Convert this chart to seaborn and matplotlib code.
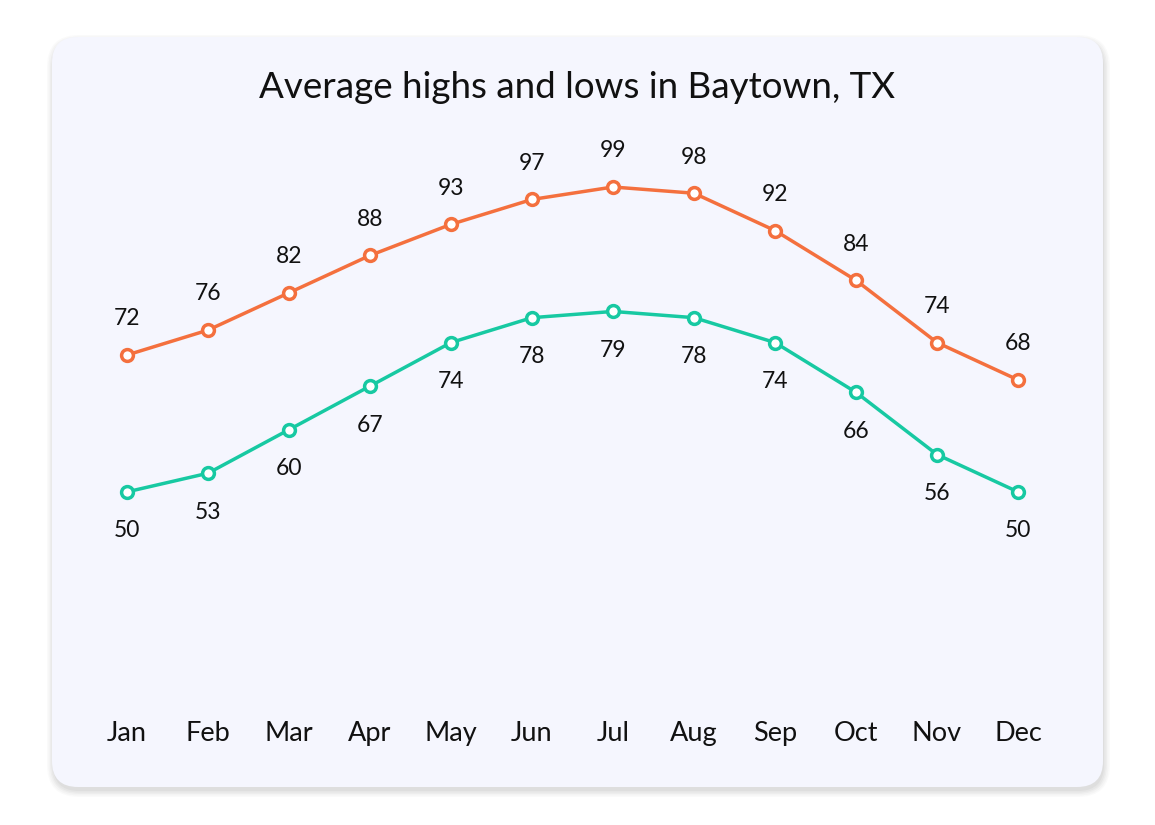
import matplotlib
matplotlib.use('Agg')
import matplotlib.pyplot as plt
import seaborn as sns
import pandas as pd
from matplotlib.patches import FancyBboxPatch

# dados
meses = ['Jan', 'Feb', 'Mar', 'Apr', 'May', 'Jun', 'Jul', 'Aug', 'Sep', 'Oct', 'Nov', 'Dec']
maximas = [72, 76, 82, 88, 93, 97, 99, 98, 92, 84, 74, 68]
minimas = [50, 53, 60, 67, 74, 78, 79, 78, 74, 66, 56, 50]

cor_max = '#F4703E'
cor_min = '#17C9A2'
fundo = '#F5F6FE'

sns.set_style('white')
plt.rcParams['font.family'] = ['Lato', 'DejaVu Sans']

df = pd.DataFrame({'mes': meses, 'max': maximas, 'min': minimas})
df['pos'] = range(len(meses))

W, H = 1155, 825
fig = plt.figure(figsize=(W / 100, H / 100), dpi=100)
fig.patch.set_facecolor('white')

# cartão com sombra
for i, a in enumerate([0.03, 0.04, 0.05, 0.06, 0.07]):
    d = 12 - 3 * i
    sombra = FancyBboxPatch((52 - d / 2 + 1, H - 787 - 4 - d / 2), 1051 + d, 750 + d,
                            boxstyle='round,pad=0,rounding_size=%d' % (26 + d / 2),
                            transform=None, facecolor='#7a7a7a', edgecolor='none', alpha=a, zorder=-3)
    fig.patches.append(sombra)
cartao = FancyBboxPatch((52, H - 787), 1051, 750, boxstyle='round,pad=0,rounding_size=26',
                        transform=None, facecolor=fundo, edgecolor='none', zorder=-2)
fig.patches.append(cartao)

# eixos: x 0..11 -> px 127..1018 ; y 72 -> 355, 99 -> 187
passo = 81
esq = 127 - passo / 2
larg = passo * 12
topo, base = 150, 700
k = (355 - 187) / 27
y_top = 72 + (355 - topo) / k
y_bot = 72 - (base - 355) / k
ax = fig.add_axes([esq / W, (H - base) / H, larg / W, (base - topo) / H])
ax.set_facecolor('none')
ax.set_zorder(1)

sns.lineplot(data=df, x='pos', y='max', ax=ax, color=cor_max, linewidth=2.5,
             marker='o', markersize=8.5, markerfacecolor='white',
             markeredgecolor=cor_max, markeredgewidth=2.5)
sns.lineplot(data=df, x='pos', y='min', ax=ax, color=cor_min, linewidth=2.5,
             marker='o', markersize=8.5, markerfacecolor='white',
             markeredgecolor=cor_min, markeredgewidth=2.5)

for x, v in zip(df['pos'], df['max']):
    ax.annotate(str(v), (x, v), xytext=(0, 26), textcoords='offset points',
                ha='center', va='center', fontsize=16.5, color='#111111')
for x, v in zip(df['pos'], df['min']):
    ax.annotate(str(v), (x, v), xytext=(0, -28), textcoords='offset points',
                ha='center', va='center', fontsize=16.5, color='#111111')

ax.set_xlim(-0.5, 11.5)
ax.set_ylim(y_bot, y_top)
ax.set_xticks(df['pos'])
ax.set_xticklabels(meses, fontsize=19.5, color='#111111')
ax.tick_params(axis='x', length=0, pad=15)
ax.set_yticks([])
ax.set_xlabel('')
ax.set_ylabel('')
for s in ax.spines.values():
    s.set_visible(False)

fig.text(577 / W, (H - 88) / H, 'Average highs and lows in Baytown, TX',
         ha='center', va='center', fontsize=26.5, color='#111111')

fig.savefig('out.png', dpi=100, facecolor='white')
